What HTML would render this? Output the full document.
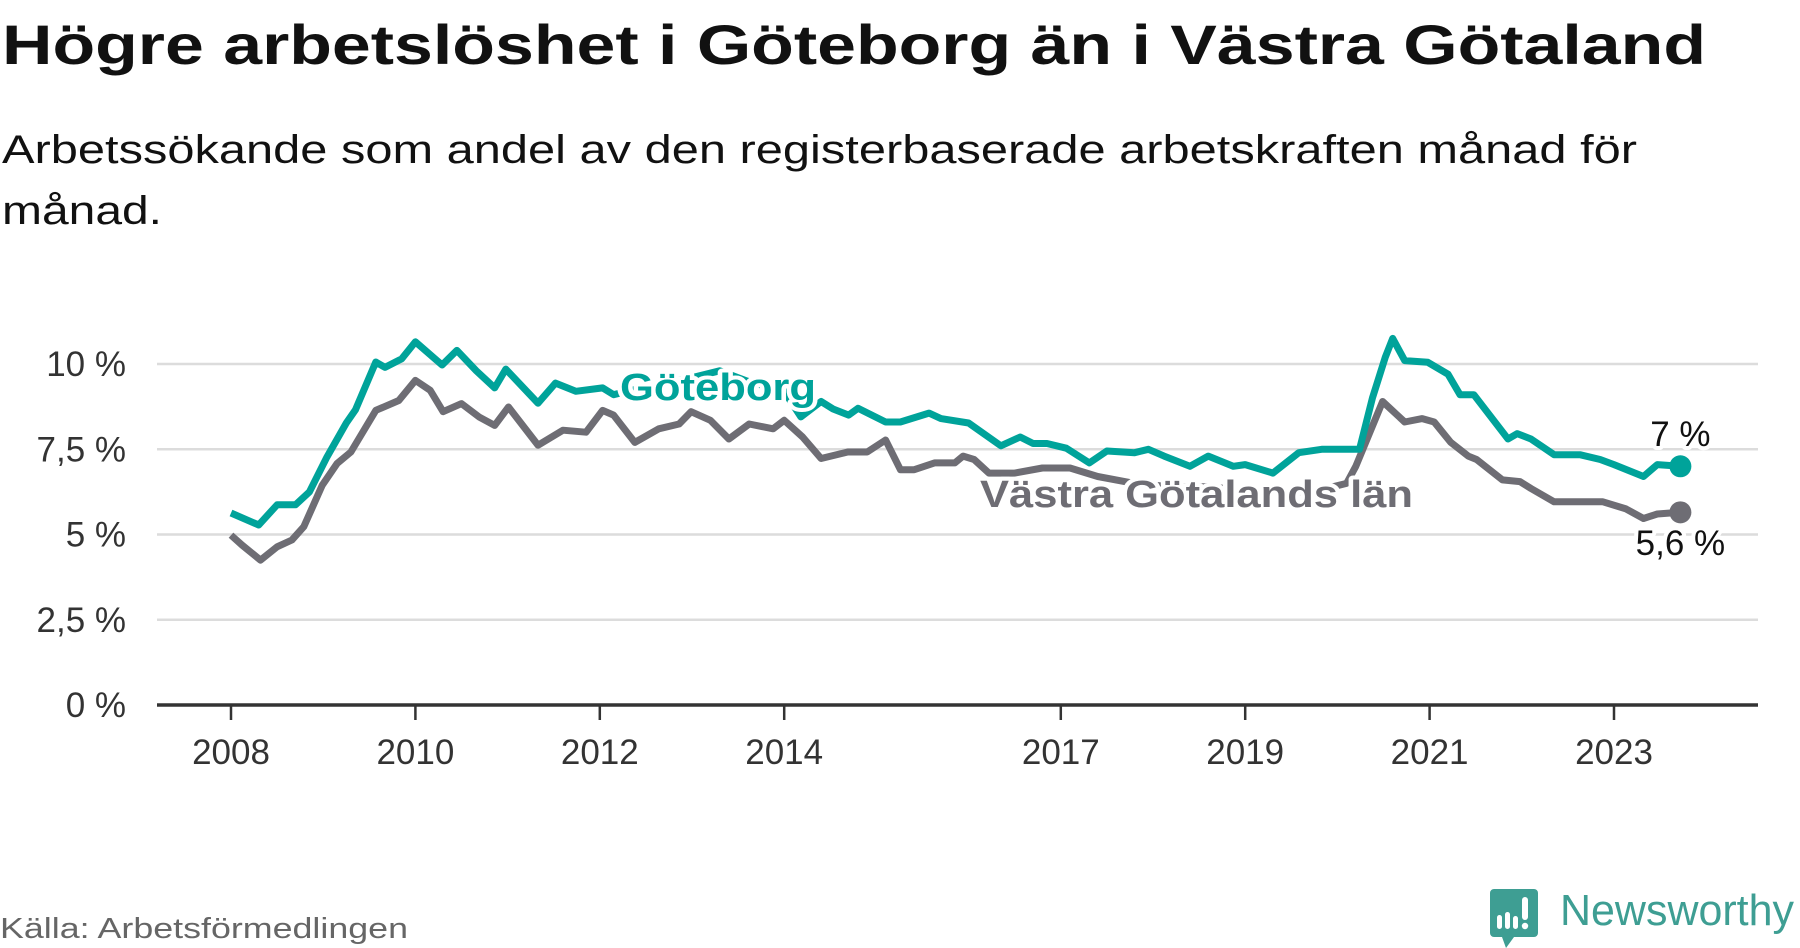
<!DOCTYPE html>
<html><head><meta charset="utf-8"><style>
html,body{margin:0;padding:0;background:#fff;width:1800px;height:948px;overflow:hidden}
svg{display:block;font-family:"Liberation Sans","DejaVu Sans",sans-serif}
</style></head><body>
<svg id="chart" width="1800" height="948" viewBox="0 0 1800 948">
<text x="2" y="64" font-size="56" font-weight="bold" fill="#111" textLength="1704" lengthAdjust="spacingAndGlyphs">Högre arbetslöshet i Göteborg än i Västra Götaland</text>
<text x="2" y="163" font-size="40" fill="#111" textLength="1635" lengthAdjust="spacingAndGlyphs">Arbetssökande som andel av den registerbaserade arbetskraften månad för</text>
<text x="2" y="224" font-size="40" fill="#111" textLength="160" lengthAdjust="spacingAndGlyphs">månad.</text>
<g id="grid"></g>
<g id="axes"></g>
<g id="lines"></g>
<g id="labels"></g>
<text x="0" y="938" font-size="29" fill="#666" textLength="408" lengthAdjust="spacingAndGlyphs">Källa: Arbetsförmedlingen</text>
<g>
<path d="M1494 889 h40 a4 4 0 0 1 4 4 v40 a4 4 0 0 1 -4 4 h-20 l-8 11 l-4 -11 h-8 a4 4 0 0 1 -4 -4 v-40 a4 4 0 0 1 4 -4z" fill="#3e9e93"/>
<rect x="1497" y="915" width="5" height="14" rx="2.5" fill="#fff"/>
<rect x="1505" y="912" width="5" height="17" rx="2.5" fill="#fff"/>
<rect x="1513" y="916" width="5" height="13" rx="2.5" fill="#fff"/>
<rect x="1522" y="897" width="6" height="23" rx="3" fill="#fff"/>
<circle cx="1525" cy="926" r="3.2" fill="#fff"/>
<text x="1560" y="925" font-size="44" fill="#3e9e93" textLength="234" lengthAdjust="spacingAndGlyphs">Newsworthy</text>
</g>
</svg>
<script>
const yTicks=[0,2.5,5,7.5,10];
const yTickLabels=["0 %","2,5 %","5 %","7,5 %","10 %"];
const xTicks=[2008,2010,2012,2014,2017,2019,2021,2023];
const xTickLabels=["2008","2010","2012","2014","2017","2019","2021","2023"];
const gbgDates=[2008.0,2008.3,2008.5,2008.7,2008.85,2009.04,2009.25,2009.35,2009.57,2009.67,2009.85,2010.0,2010.29,2010.45,2010.66,2010.86,2010.98,2011.33,2011.52,2011.74,2012.03,2012.15,2012.6,2013.0,2013.3,2013.6,2014.0,2014.18,2014.4,2014.53,2014.7,2014.8,2015.1,2015.26,2015.57,2015.7,2016.0,2016.35,2016.56,2016.7,2016.85,2017.06,2017.31,2017.5,2017.8,2017.95,2018.12,2018.4,2018.6,2018.87,2019.0,2019.3,2019.58,2019.83,2020.08,2020.24,2020.38,2020.52,2020.6,2020.73,2020.98,2021.2,2021.33,2021.48,2021.85,2021.95,2022.1,2022.35,2022.63,2022.85,2023.0,2023.32,2023.47,2023.72];
const gbgValues=[5.63,5.28,5.87,5.87,6.25,7.27,8.27,8.66,10.06,9.9,10.15,10.65,9.97,10.4,9.8,9.3,9.85,8.85,9.44,9.2,9.3,9.1,9.4,9.6,9.8,9.5,9.2,8.45,8.9,8.68,8.5,8.7,8.3,8.3,8.56,8.4,8.27,7.6,7.86,7.67,7.67,7.53,7.1,7.45,7.4,7.5,7.3,7.0,7.3,7.0,7.05,6.8,7.4,7.5,7.5,7.5,9.0,10.2,10.75,10.1,10.05,9.7,9.1,9.1,7.8,7.96,7.8,7.34,7.34,7.2,7.05,6.7,7.05,7.0];
const vgDates=[2008.0,2008.12,2008.32,2008.5,2008.66,2008.79,2008.99,2009.15,2009.3,2009.57,2009.82,2010.0,2010.16,2010.3,2010.5,2010.69,2010.86,2011.01,2011.33,2011.6,2011.85,2012.03,2012.15,2012.38,2012.64,2012.86,2012.99,2013.2,2013.4,2013.62,2013.88,2014.0,2014.2,2014.4,2014.69,2014.9,2015.1,2015.26,2015.41,2015.63,2015.85,2015.94,2016.06,2016.22,2016.5,2016.8,2017.1,2017.4,2017.8,2018.2,2018.6,2019.0,2019.4,2019.8,2020.1,2020.2,2020.49,2020.73,2020.92,2021.05,2021.23,2021.42,2021.51,2021.79,2021.98,2022.1,2022.35,2022.73,2022.88,2023.13,2023.32,2023.47,2023.72];
const vgValues=[4.98,4.69,4.25,4.64,4.84,5.23,6.45,7.08,7.42,8.64,8.93,9.52,9.23,8.6,8.84,8.45,8.2,8.74,7.62,8.06,8.0,8.64,8.5,7.7,8.1,8.24,8.6,8.35,7.8,8.24,8.1,8.35,7.86,7.23,7.42,7.42,7.77,6.9,6.9,7.1,7.1,7.3,7.2,6.8,6.8,6.95,6.95,6.7,6.5,6.4,6.4,6.3,6.2,6.3,6.5,7.0,8.9,8.3,8.4,8.3,7.7,7.3,7.2,6.6,6.55,6.35,5.96,5.96,5.96,5.75,5.47,5.6,5.65];
const NS='http://www.w3.org/2000/svg';
const X0=157,X1=1758;
function xs(t){return 231+(t-2008)*92.2;}
function ys(v){return 705-v*34.1;}
function mk(tag,attrs,parent){const e=document.createElementNS(NS,tag);for(const k in attrs)e.setAttribute(k,attrs[k]);document.getElementById(parent).appendChild(e);return e;}
yTicks.forEach((v,i)=>{
  if(v>0){const g=mk('line',{x1:X0,x2:X1,y1:ys(v),y2:ys(v),stroke:'#dcdcdc','stroke-width':2.5},'grid');
  
  }
  const t=mk('text',{x:126,y:ys(v)+12,'text-anchor':'end','font-size':35,fill:'#333'},'axes');t.textContent=yTickLabels[i];
  
  
});
const ax=mk('line',{x1:X0,x2:X1,y1:705,y2:705,stroke:'#333','stroke-width':3.5},'axes');


xTicks.forEach((yr,i)=>{
  const tk=mk('line',{x1:xs(yr),x2:xs(yr),y1:705,y2:720,stroke:'#333','stroke-width':2.5},'axes');
  
  
  const t=mk('text',{x:xs(yr),y:764,'text-anchor':'middle','font-size':35,fill:'#333'},'axes');t.textContent=xTickLabels[i];
  
  
});
function path(d,v){return d.map((t,i)=>(i?'L':'M')+xs(t).toFixed(1)+' '+ys(v[i]).toFixed(1)).join(' ');}
const l1=mk('path',{d:path(vgDates,vgValues),fill:'none',stroke:'#6e6d74','stroke-width':7,'stroke-linejoin':'round'},'lines');


const l2=mk('path',{d:path(gbgDates,gbgValues),fill:'none',stroke:'#00a39a','stroke-width':7,'stroke-linejoin':'round'},'lines');


const lg=gbgDates.length-1,lv=vgDates.length-1;
const d1=mk('circle',{cx:xs(gbgDates[lg]),cy:ys(gbgValues[lg]),r:11,fill:'#00a39a'},'lines');


const d2=mk('circle',{cx:xs(vgDates[lv]),cy:ys(vgValues[lv]),r:11,fill:'#6e6d74'},'lines');


function lab(txt,x,y,size,fill,bold,name,len){
  const t=mk('text',{x:x,y:y,'font-size':size,fill:fill,'font-weight':bold?'bold':'normal',stroke:'#fff','stroke-width':8,'paint-order':'stroke','stroke-linejoin':'round','text-anchor':len?'start':'middle'},'labels');
  if(len){t.setAttribute('textLength',len);t.setAttribute('lengthAdjust','spacingAndGlyphs');}
  t.textContent=txt;
  
  
}
lab('Göteborg',620,400,38,'#00a39a',true,'label-goteborg',196);
lab('Västra Götalands län',980,507,38,'#6e6d74',true,'label-vastra-gotaland',433);
lab('7 %',xs(gbgDates[lg]),446,35,'#111',false,'value-label-goteborg');
lab('5,6 %',xs(vgDates[lv]),555,35,'#111',false,'value-label-vastra-gotaland');
</script>
</body></html>
